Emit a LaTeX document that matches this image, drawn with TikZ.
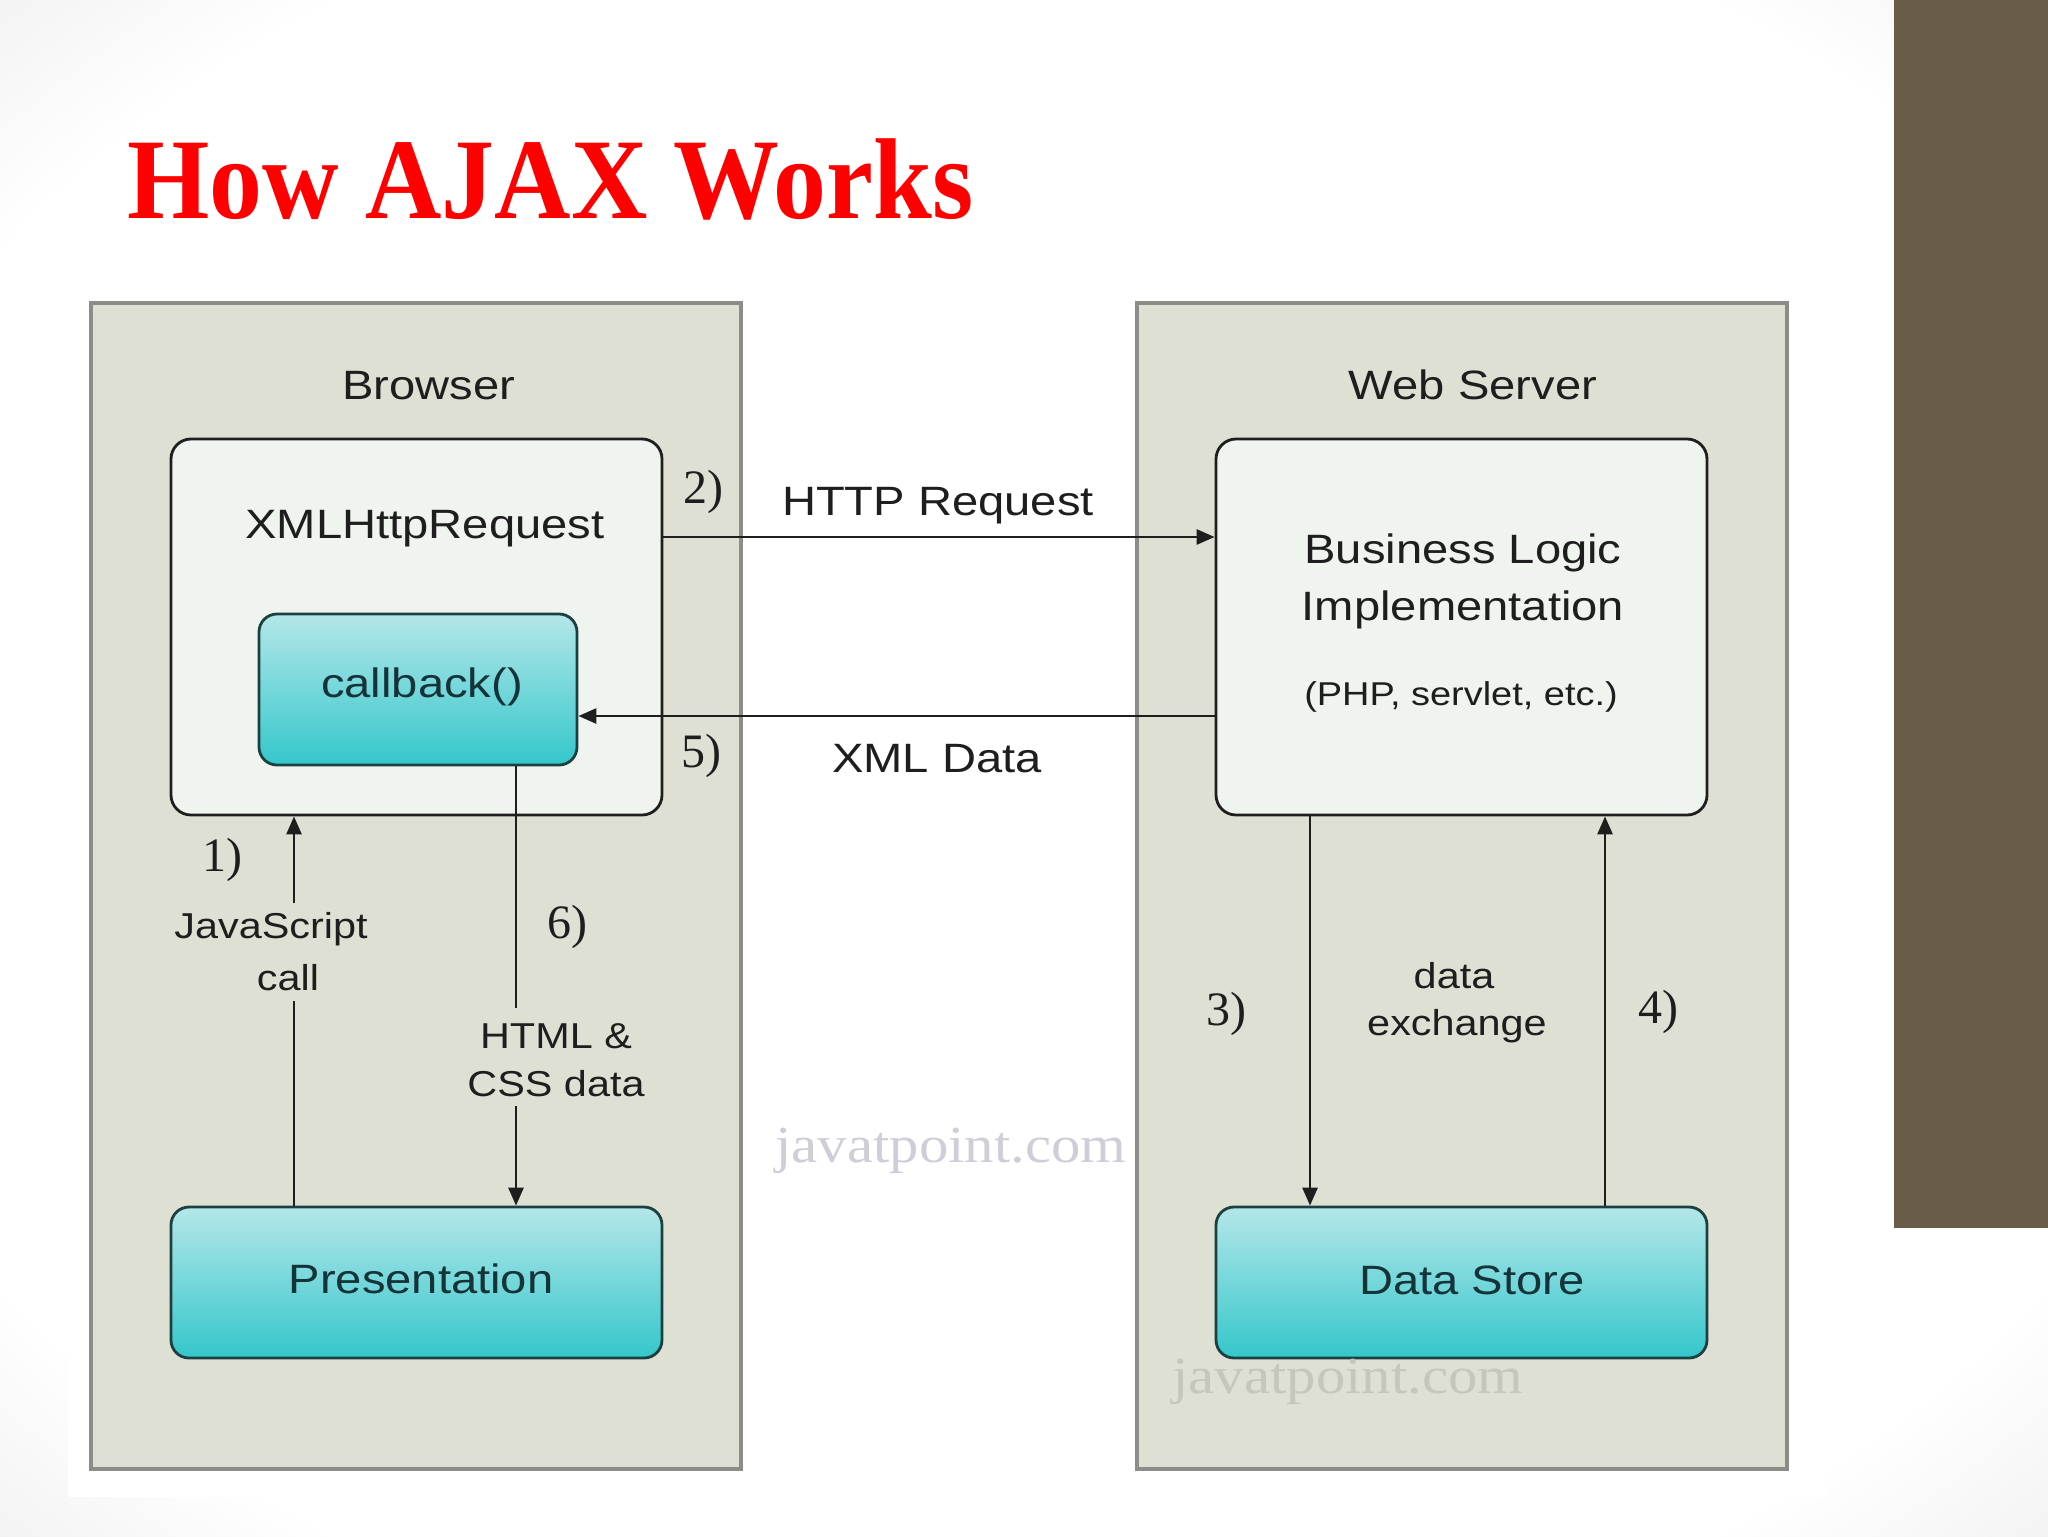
\documentclass[tikz,border=0pt]{standalone}
\usepackage{fontspec}
\setmainfont{Liberation Sans}
\newfontfamily\diagfont[FakeStretch=1.15]{Liberation Sans}
\newfontfamily\numfont{Liberation Serif}
\newfontfamily\titlefont[FakeStretch=0.92]{Liberation Serif}
\newfontfamily\wmfont[FakeStretch=1.13]{Liberation Serif}
\usetikzlibrary{arrows.meta}
\definecolor{bgedge}{HTML}{D3D3D6}
\definecolor{brownbar}{HTML}{695D48}
\definecolor{boxgray}{HTML}{DFE0D4}
\definecolor{tierborder}{HTML}{8C8C88}
\definecolor{panelfill}{HTML}{EFF4EE}
\definecolor{ink}{HTML}{1E1E1E}
\definecolor{cyantop}{HTML}{B4E7E9}
\definecolor{cyanbot}{HTML}{34C7CB}
\definecolor{cyanborder}{HTML}{1C4040}
\definecolor{cyantext}{HTML}{15343A}
\definecolor{titlered}{HTML}{FF0000}
\definecolor{wmA}{HTML}{CFCED8}
\definecolor{wmB}{HTML}{C6C6BC}
\pgfdeclareradialshading{slidebg}{\pgfpoint{0bp}{0bp}}{color(0bp)=(white); color(30bp)=(white); color(50bp)=(bgedge)}
\tikzset{
  tier/.style={draw=tierborder, fill=boxgray, line width=1.6pt, minimum width=325pt, minimum height=583pt, inner sep=0pt},
  panel/.style={draw=ink, fill=panelfill, line width=1.4pt, rounded corners=10pt, minimum width=245.5pt, minimum height=188pt, inner sep=0pt},
  cyanbox/.style={draw=cyanborder, top color=cyantop, bottom color=cyanbot, line width=1.4pt, rounded corners=9pt, minimum height=75.5pt, inner sep=0pt},
  lbl/.style={anchor=base, inner sep=0pt, text=ink, font=\diagfont\fontsize{20.5}{24}\selectfont},
  clbl/.style={lbl, text=cyantext},
  slbl/.style={anchor=base, inner sep=0pt, text=ink, font=\diagfont\fontsize{18}{21}\selectfont},
  plbl/.style={anchor=base, inner sep=0pt, text=ink, font=\diagfont\fontsize{16.5}{19}\selectfont},
  num/.style={anchor=base, inner sep=0pt, text=ink, font=\numfont\fontsize{24}{26}\selectfont},
  plain/.style={draw=ink, line width=1.4pt},
  flow/.style={plain, -{Triangle[length=9pt,width=7.5pt]}},
  wm/.style={anchor=base west, inner sep=0pt, font=\wmfont\fontsize{26}{28}\selectfont}
}
\begin{document}
\begin{tikzpicture}[x=0.5pt,y=-0.5pt]
\useasboundingbox (0,0) rectangle (2048,1536);
\shade[shading=slidebg] (0,0) rectangle (2048,1536);
\fill[brownbar] (1894,0) rectangle (2048,1228);
\fill[white] (68,256) rectangle (1826,1497);

% title
\node[anchor=base west, inner sep=0pt, text=titlered, font=\titlefont\bfseries\fontsize{57.5}{60}\selectfont] (title) at (127,218) {How AJAX Works};

% tiers
\node[tier] (browser) at (416,886) {};
\node[tier] (server) at (1462,886) {};

% boxes
\node[panel] (xhr) at (416.5,627) {};
\node[panel] (logic) at (1461.5,627) {};
\node[cyanbox, minimum width=159pt] (callback) at (418,689.5) {};
\node[cyanbox, minimum width=245.5pt] (pres) at (416.5,1282.5) {};
\node[cyanbox, minimum width=245.5pt] (store) at (1461.5,1282.5) {};

% watermarks
\node[wm, text=wmA] (wm1) at (775,1162) {javatpoint.com};
\node[wm, text=wmB] (wm2) at (1172,1393) {javatpoint.com};

% texts
\node[lbl] (tBrowser) at (429,399) {Browser};
\node[lbl] (tServer) at (1473,399) {Web Server};
\node[lbl] (tXhr) at (425,538) {XMLHttpRequest};
\node[clbl] (tCb) at (422,697) {callback()};
\node[clbl] (tPres) at (421,1293) {Presentation};
\node[clbl] (tStore) at (1472,1294) {Data Store};
\node[lbl] (tBL1) at (1463,563) {Business Logic};
\node[lbl] (tBL2) at (1463,620) {Implementation};
\node[plbl] (tPHP) at (1461,705) {(PHP, servlet, etc.)};
\node[lbl] (tHttp) at (938,515) {HTTP Request};
\node[lbl] (tXml) at (937,772) {XML Data};
\node[slbl] (tJs1) at (271,938) {JavaScript};
\node[slbl] (tJs2) at (288,990) {call};
\node[slbl] (tHtml1) at (556,1048) {HTML \&};
\node[slbl] (tHtml2) at (556,1096) {CSS data};
\node[slbl] (tData1) at (1454,988) {data};
\node[slbl] (tData2) at (1457,1035) {exchange};
\node[num] (n1) at (222,871) {1)};
\node[num] (n2) at (703,503) {2)};
\node[num] (n3) at (1226,1025) {3)};
\node[num] (n4) at (1658,1023) {4)};
\node[num] (n5) at (701,767) {5)};
\node[num] (n6) at (567,938) {6)};

% connectors
\coordinate (j1a) at (294,1001);
\coordinate (j1b) at (294,903);
\coordinate (j6a) at (516,1008);
\coordinate (j6b) at (516,1106);
\coordinate (y2) at (0,537);
\coordinate (y5) at (0,716);
\coordinate (x3) at (1310,0);
\coordinate (x4) at (1605,0);
\draw[plain] (pres.north -| j1a) -- (j1a);
\draw[flow] (j1b) -- (xhr.south -| j1b);
\draw[plain] (callback.south -| j6a) -- (j6a);
\draw[flow] (j6b) -- (pres.north -| j6b);
\draw[flow] (xhr.east |- y2) -- (logic.west |- y2);
\draw[flow] (logic.west |- y5) -- (callback.east |- y5);
\draw[flow] (logic.south -| x3) -- (store.north -| x3);
\draw[flow] (store.north -| x4) -- (logic.south -| x4);
\end{tikzpicture}
\end{document}
